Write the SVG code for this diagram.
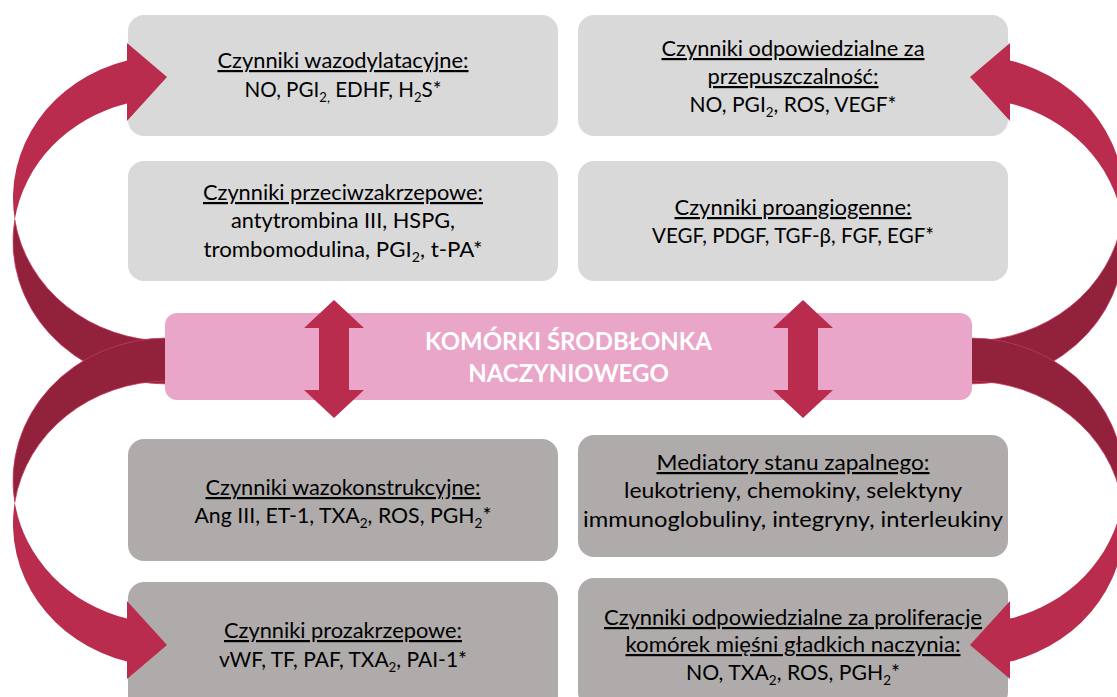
<svg xmlns="http://www.w3.org/2000/svg" width="1117" height="697" viewBox="0 0 1117 697">
<defs>
<style>
.box-light{fill:#d9d9d9}
.box-dark{fill:#afabab}
.t{font-family:Lato,"Open Sans","Liberation Sans",sans-serif;font-size:22px;fill:#000;text-anchor:middle}
.u{text-decoration:underline}
.title{font-family:Lato,"Open Sans","Liberation Sans",sans-serif;font-size:24px;font-weight:bold;fill:#fff;text-anchor:middle}
.arr-front{fill:#b92c4d}
.arr-back{fill:#92213c;stroke:#c23a5c;stroke-width:0.8}
.dbl{fill:#b92c4d}
</style>
</defs>

<g id="box-wazodylatacyjne">
<rect class="box-light" x="128" y="15" width="430" height="121" rx="16"/>
<text class="t u" x="343" y="68" textLength="251" lengthAdjust="spacingAndGlyphs">Czynniki wazodylatacyjne:</text>
<text class="t" x="343" y="97" textLength="197" lengthAdjust="spacingAndGlyphs">NO, PGI<tspan dy="5" font-size="14">2,</tspan><tspan dy="-5"> EDHF, H</tspan><tspan dy="5" font-size="14">2</tspan><tspan dy="-5">S*</tspan></text>
</g>

<g id="box-przeciwzakrzepowe">
<rect class="box-light" x="128" y="161" width="430" height="120" rx="16"/>
<text class="t u" x="343" y="200" textLength="280" lengthAdjust="spacingAndGlyphs">Czynniki przeciwzakrzepowe:</text>
<text class="t" x="343" y="228" textLength="224" lengthAdjust="spacingAndGlyphs">antytrombina III, HSPG,</text>
<text class="t" x="343" y="257" textLength="279" lengthAdjust="spacingAndGlyphs">trombomodulina, PGI<tspan dy="5" font-size="14">2</tspan><tspan dy="-5">, t-PA*</tspan></text>
</g>

<g id="box-przepuszczalnosc">
<rect class="box-light" x="578" y="15" width="430" height="121" rx="16"/>
<text class="t u" x="793" y="56" textLength="263" lengthAdjust="spacingAndGlyphs">Czynniki odpowiedzialne za</text>
<text class="t u" x="793" y="84" textLength="171" lengthAdjust="spacingAndGlyphs">przepuszczalność:</text>
<text class="t" x="793" y="112" textLength="207" lengthAdjust="spacingAndGlyphs">NO, PGI<tspan dy="5" font-size="14">2</tspan><tspan dy="-5">, ROS, VEGF*</tspan></text>
</g>

<g id="box-proangiogenne">
<rect class="box-light" x="578" y="161" width="430" height="120" rx="16"/>
<text class="t u" x="793" y="215" textLength="237" lengthAdjust="spacingAndGlyphs">Czynniki proangiogenne:</text>
<text class="t" x="793" y="243" textLength="282" lengthAdjust="spacingAndGlyphs">VEGF, PDGF, TGF-β, FGF, EGF*</text>
</g>

<g id="box-wazokonstrukcyjne">
<rect class="box-dark" x="128" y="439" width="430" height="122" rx="16"/>
<text class="t u" x="343" y="495" textLength="275" lengthAdjust="spacingAndGlyphs">Czynniki wazokonstrukcyjne:</text>
<text class="t" x="343" y="523" textLength="297" lengthAdjust="spacingAndGlyphs">Ang III, ET-1, TXA<tspan dy="5" font-size="14">2</tspan><tspan dy="-5">, ROS, PGH</tspan><tspan dy="5" font-size="14">2</tspan><tspan dy="-5">*</tspan></text>
</g>

<g id="box-mediatory">
<rect class="box-dark" x="578" y="435" width="430" height="122" rx="16"/>
<text class="t u" x="793" y="470" textLength="273" lengthAdjust="spacingAndGlyphs">Mediatory stanu zapalnego:</text>
<text class="t" x="793" y="498" textLength="338" lengthAdjust="spacingAndGlyphs">leukotrieny, chemokiny, selektyny</text>
<text class="t" x="793" y="527" textLength="420" lengthAdjust="spacingAndGlyphs">immunoglobuliny, integryny, interleukiny</text>
</g>

<g id="box-prozakrzepowe">
<rect class="box-dark" x="128" y="582" width="430" height="130" rx="16"/>
<text class="t u" x="343" y="638" textLength="238" lengthAdjust="spacingAndGlyphs">Czynniki prozakrzepowe:</text>
<text class="t" x="343" y="667" textLength="248" lengthAdjust="spacingAndGlyphs">vWF, TF, PAF, TXA<tspan dy="5" font-size="14">2</tspan><tspan dy="-5">, PAI-1*</tspan></text>
</g>

<g id="box-proliferacja">
<rect class="box-dark" x="578" y="578" width="430" height="130" rx="16"/>
<text class="t u" x="793" y="625" textLength="378" lengthAdjust="spacingAndGlyphs">Czynniki odpowiedzialne za proliferacje</text>
<text class="t u" x="793" y="652" textLength="335" lengthAdjust="spacingAndGlyphs">komórek mięśni gładkich naczynia:</text>
<text class="t" x="793" y="680" textLength="214" lengthAdjust="spacingAndGlyphs">NO, TXA<tspan dy="5" font-size="14">2</tspan><tspan dy="-5">, ROS, PGH</tspan><tspan dy="5" font-size="14">2</tspan><tspan dy="-5">*</tspan></text>
</g>

<g id="connectors">
<path class="arr-back" d="M167 384 A154 142.75 0 0 1 14.75 219.75 A154 142.75 0 0 0 167 341 Z"/>
<path class="arr-front" d="M14.75 219.75 A154 142.75 0 0 1 127 103.4 L127 121 L167 77 L127 43 L127 60.4 A154 142.75 0 0 0 14.75 219.75 Z"/>
<path class="arr-back" d="M167 338 A154 142.75 0 0 0 14.75 502.25 A154 142.75 0 0 1 167 381 Z"/>
<path class="arr-front" d="M14.75 502.25 A154 142.75 0 0 0 127 618.6 L127 601 L167 645 L127 679 L127 661.6 A154 142.75 0 0 1 14.75 502.25 Z"/>
<path class="arr-back" d="M970 384 A154 142.75 0 0 0 1122.25 219.75 A154 142.75 0 0 1 970 341 Z"/>
<path class="arr-front" d="M1122.25 219.75 A154 142.75 0 0 0 1010 103.4 L1010 121 L970 77 L1010 43 L1010 60.4 A154 142.75 0 0 1 1122.25 219.75 Z"/>
<path class="arr-back" d="M970 338 A154 142.75 0 0 1 1122.25 502.25 A154 142.75 0 0 0 970 381 Z"/>
<path class="arr-front" d="M1122.25 502.25 A154 142.75 0 0 1 1010 618.6 L1010 601 L970 645 L1010 679 L1010 661.6 A154 142.75 0 0 0 1122.25 502.25 Z"/>
</g>

<g id="komorki-srodblonka">
<rect x="165" y="313" width="807" height="87" rx="12" fill="#eaa6c8"/>
<text class="title" x="568.5" y="350">KOMÓRKI ŚRODBŁONKA</text>
<text class="title" x="568.5" y="382">NACZYNIOWEGO</text>
</g>

<g id="double-arrows">
<path class="dbl" d="M334 300 L364 328 L349 328 L349 390 L364 390 L334 418 L304 390 L319 390 L319 328 L304 328 Z"/>
<path class="dbl" d="M803 300 L833 328 L818 328 L818 390 L833 390 L803 418 L773 390 L788 390 L788 328 L773 328 Z"/>
</g>
</svg>
